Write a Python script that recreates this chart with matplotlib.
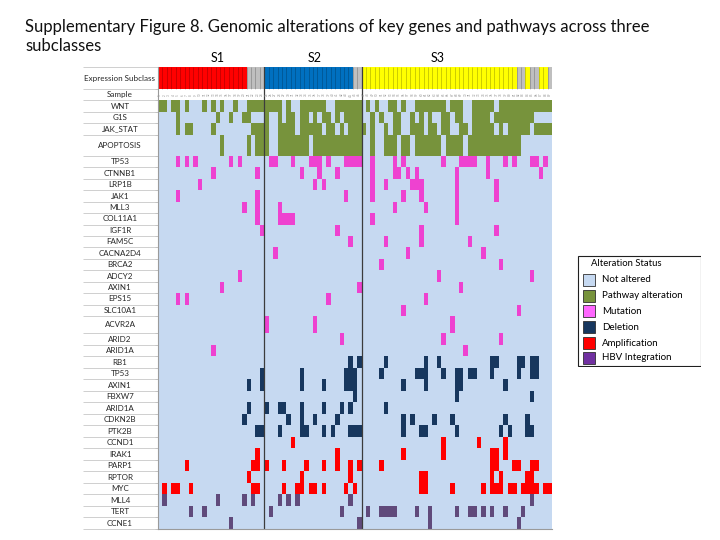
import numpy as np
import matplotlib.pyplot as plt
from matplotlib.colors import ListedColormap, BoundaryNorm
from matplotlib.patches import Rectangle

plt.rcParams['font.family'] = ['Lato', 'DejaVu Sans']

# ============================
#  Data
# ============================
n_samples = 89

# expression subclass, in runs along the sample axis
subclass_runs = [("S1", 20), ("NA", 4), ("S2", 20), ("NA", 2), ("S3", 35),
                 ("NA", 2), ("S3", 1), ("NA", 2), ("S3", 2), ("NA", 1)]
sample_ids = [str(i + 1) for i in range(n_samples)]

# pathway alterations
WNT = [0, 1, 3, 4, 6, 10, 12, 14, 17, 20, 21, 22, 23, 24, 25, 26, 27,
       29, 32, 33, 34, 35, 36, 37, 40, 41, 42, 43, 44, 45,
       47, 49, 52, 53, 55, 58, 59, 60, 61, 62, 63, 64, 66, 67, 68, 71, 72, 73,
       74, 75, 77, 78, 79, 80, 81, 82, 83, 84, 85, 86, 87, 88]
G1S = [4, 13, 16, 19, 20, 24, 27, 29, 30, 32, 33, 35, 37, 38, 40, 42, 43, 44,
       45, 48, 50, 53, 54, 57, 59, 61, 64, 65, 67, 68, 71, 72, 73, 74, 76, 77,
       78, 79, 80, 81, 82, 83, 84]
JAK_STAT = [4, 6, 7, 12, 21, 22, 23, 24, 27, 28, 29, 30, 32, 33, 34, 35, 36,
            38, 39, 41, 43, 44, 45, 46, 48, 51, 53, 54, 57, 58, 59, 61, 62, 64,
            65, 68, 69, 71, 72, 73, 74, 75, 77, 79, 80, 81, 82, 83, 85, 86, 87,
            88]
APOPTOSIS = [14, 20, 22, 23, 24, 27, 28, 29, 30, 31, 32, 33, 35, 36, 37, 38,
             39, 40, 41, 42, 43, 44, 45, 48, 51, 52, 53, 55, 56, 58, 59, 60,
             61, 62, 63, 65, 66, 67, 68, 70, 71, 72, 73, 74, 75, 76, 77, 78,
             79, 80, 81]

# mutations
TP53_mut = [4, 6, 8, 16, 18, 25, 26, 30, 34, 35, 36, 38, 42, 43, 44, 45,
            48, 53, 55, 64, 68, 69, 70, 71, 74, 78, 80, 84, 85, 87]
CTNNB1 = [12, 22, 32, 36, 40, 48, 53, 54, 56, 58, 67, 74, 86]
LRP1B = [9, 35, 37, 48, 51, 57, 58, 59, 67, 76]
JAK1 = [4, 22, 42, 48, 55, 59, 67, 76]
MLL3 = [19, 22, 27, 53, 60, 67]
COL11A1 = [22, 27, 28, 29, 30, 48, 67]
IGF1R = [23, 40, 59, 76]
FAM5C = [43, 51, 59, 70]
CACNA2D4 = [26, 56, 73]
BRCA2 = [50, 77]
ADCY2 = [18, 63, 84]
AXIN1_mut = [14, 45, 68]
EPS15 = [4, 6, 38, 60]
SLC10A1 = [55, 81]
ACVR2A = [24, 35, 66]
ARID2 = [41, 64, 77]
ARID1A_mut = [12, 69]

# deletions
RB1 = [43, 45, 51, 60, 63, 75, 76, 81, 82, 84, 85]
TP53_del = [23, 32, 42, 43, 44, 50, 58, 59, 60, 64, 67, 68, 70, 71, 75, 81,
            84, 85]
AXIN1_del = [20, 23, 32, 37, 42, 43, 44, 55, 60, 67, 68, 78]
FBXW7 = [44, 67, 84]
ARID1A_del = [20, 24, 27, 28, 32, 37, 41, 43, 51]
CDKN2B = [19, 29, 32, 35, 40, 55, 57, 62, 66, 78, 83]
PTK2B = [22, 23, 27, 32, 33, 37, 39, 43, 44, 45, 55, 59, 60, 67, 77, 79,
         83, 84]

# amplifications
CCND1 = [30, 64, 72, 78]
IRAK1 = [22, 40, 55, 64, 75, 76, 78]
PARP1 = [6, 21, 22, 24, 28, 33, 37, 40, 43, 45, 50, 75, 76, 80, 81, 84, 85]
RPTOR = [20, 32, 43, 59, 60, 75, 77, 83, 84]
MYC = [1, 3, 4, 7, 21, 22, 28, 31, 32, 34, 35, 37, 42, 44, 59, 60, 66, 73,
       75, 76, 77, 79, 80, 82, 83, 84, 85, 87, 88]

# HBV integration
MLL4 = [1, 13, 19, 21, 27, 29, 31, 43, 84]
TERT = [7, 10, 25, 41, 47, 50, 51, 52, 53, 58, 61, 67, 70, 71, 73, 75, 78, 82]
CCNE1 = [16, 45, 61, 81]

# (label, status, altered samples)
rows = [
    ("WNT", "pathway", WNT), ("G1S", "pathway", G1S),
    ("JAK_STAT", "pathway", JAK_STAT), ("APOPTOSIS", "pathway", APOPTOSIS),
    ("TP53", "mutation", TP53_mut), ("CTNNB1", "mutation", CTNNB1),
    ("LRP1B", "mutation", LRP1B), ("JAK1", "mutation", JAK1),
    ("MLL3", "mutation", MLL3), ("COL11A1", "mutation", COL11A1),
    ("IGF1R", "mutation", IGF1R), ("FAM5C", "mutation", FAM5C),
    ("CACNA2D4", "mutation", CACNA2D4), ("BRCA2", "mutation", BRCA2),
    ("ADCY2", "mutation", ADCY2), ("AXIN1", "mutation", AXIN1_mut),
    ("EPS15", "mutation", EPS15), ("SLC10A1", "mutation", SLC10A1),
    ("ACVR2A", "mutation", ACVR2A), ("ARID2", "mutation", ARID2),
    ("ARID1A", "mutation", ARID1A_mut),
    ("RB1", "deletion", RB1), ("TP53", "deletion", TP53_del),
    ("AXIN1", "deletion", AXIN1_del), ("FBXW7", "deletion", FBXW7),
    ("ARID1A", "deletion", ARID1A_del), ("CDKN2B", "deletion", CDKN2B),
    ("PTK2B", "deletion", PTK2B),
    ("CCND1", "amplification", CCND1), ("IRAK1", "amplification", IRAK1),
    ("PARP1", "amplification", PARP1), ("RPTOR", "amplification", RPTOR),
    ("MYC", "amplification", MYC),
    ("MLL4", "hbv", MLL4), ("TERT", "hbv", TERT), ("CCNE1", "hbv", CCNE1),
]

legend_labels = ["Not altered", "Pathway alteration", "Mutation", "Deletion",
                 "Amplification", "HBV Integration"]

# ============================
#  Colours / codes
# ============================
status_code = {"none": 0, "pathway": 1, "mutation": 2, "deletion": 3,
               "amplification": 4, "hbv": 5}
sub_code = {"S1": 6, "S2": 7, "S3": 8, "NA": 9}
cell_colors = ["#c6d9f1", "#77933c", "#ee42d0", "#17375e", "#ff0000",
               "#604a7b", "#ff0000", "#0070c0", "#ffff00", "#bfbfbf", "#ffffff"]
legend_colors = ["#c6d9f1", "#77933c", "#ff66ff", "#17375e", "#ff0000",
                 "#7030a0"]

subclass = []
for name, n in subclass_runs:
    subclass += [name] * n

M = np.zeros((len(rows) + 2, n_samples))
M[0] = [sub_code[s] for s in subclass]
M[1] = 10
for i, (label, status, cols) in enumerate(rows):
    M[i + 2, cols] = status_code[status]

# row heights in pixels (header rows, then the gene rows)
heights = [22.6, 10.7, 12.0, 11.3, 11.4, 21.3] + [11.43] * 14 + [17.3] + [11.5] * 17
y_edges = 66.7 + np.concatenate([[0], np.cumsum(heights)])
x_edges = np.arange(n_samples + 1)

cmap = ListedColormap(cell_colors)
norm = BoundaryNorm(np.arange(-0.5, len(cell_colors) + 0.5), cmap.N)

# ============================
#  Figure
# ============================
fig = plt.figure(figsize=(7.2, 5.4), dpi=100)
W, H = 720, 540
ax = fig.add_axes([158 / W, 1 - y_edges[-1] / H, 394 / W,
                   (y_edges[-1] - y_edges[0]) / H])
ax.pcolormesh(x_edges, y_edges, M, cmap=cmap, norm=norm)
ax.set_xlim(0, n_samples)
ax.set_ylim(y_edges[-1], y_edges[0])

# thin dividers inside the subclass bar
ax.vlines(x_edges[1:-1], y_edges[0], y_edges[1], color="k", lw=0.4, alpha=0.35)

# subclass separators
ax.vlines([24, 46], y_edges[0] - 1.5, y_edges[-1], color="#3c3c3c", lw=0.9)

# sample ids
for j, sid in enumerate(sample_ids):
    ax.text(j + 0.5, (y_edges[1] + y_edges[2]) / 2, sid, fontsize=2.2,
            color="#909090", rotation=90, ha="center", va="center")

# label column
col_w = 394 / n_samples
lab_x = (120 - 158) / col_w
left_x = (83 - 158) / col_w
all_labels = ["Expression Subclass", "Sample"] + [r[0] for r in rows]
for i, lab in enumerate(all_labels):
    ax.text(lab_x, (y_edges[i] + y_edges[i + 1]) / 2, lab, fontsize=5.8,
            color="#262626", ha="center", va="center", clip_on=False)
ax.hlines(y_edges, left_x, 0, color="#c8c8c8", lw=0.6, clip_on=False)

ax.set_xticks([])
ax.set_yticks(y_edges[1:])
ax.set_yticklabels([])
ax.tick_params(axis="y", length=2.5, color="#9a9a9a", width=0.6)
for side in ["top", "right"]:
    ax.spines[side].set_visible(False)
ax.spines["left"].set_color("#9a9a9a")
ax.spines["bottom"].set_color("#9a9a9a")
ax.spines["left"].set_linewidth(0.8)
ax.spines["bottom"].set_linewidth(0.8)

# title (two lines) and subclass names
fig.text(25 / W, 1 - 27 / H,
         "Supplementary Figure 8. Genomic alterations of key genes and pathways across three",
         fontsize=12, ha="left", va="center", color="#111111")
fig.text(25 / W, 1 - 46 / H, "subclasses",
         fontsize=12, ha="left", va="center", color="#111111")
for name, xpx in [("S1", 218), ("S2", 315), ("S3", 438)]:
    fig.text(xpx / W, 1 - 58 / H, name, fontsize=9, ha="center", va="center")

# ============================
#  Legend box
# ============================
lax = fig.add_axes([577 / W, 1 - 367 / H, 124 / W, 112 / H])
lax.set_xlim(0, 124)
lax.set_ylim(112, 0)
lax.axis("off")
lax.add_patch(Rectangle((0.5, 0.5), 123, 111, fill=False, lw=0.8,
                        edgecolor="#202020"))
lax.text(14, 8, "Alteration Status", fontsize=6.8, va="center", ha="left")
item_y = [25, 41, 56, 72, 88, 103]
for lab, c, yy in zip(legend_labels, legend_colors, item_y):
    lax.add_patch(Rectangle((6, yy - 6), 12, 12, facecolor=c,
                            edgecolor="#303030", lw=0.6))
    lax.text(25, yy, lab, fontsize=7, va="center", ha="left")

fig.savefig("out.png", dpi=100)
